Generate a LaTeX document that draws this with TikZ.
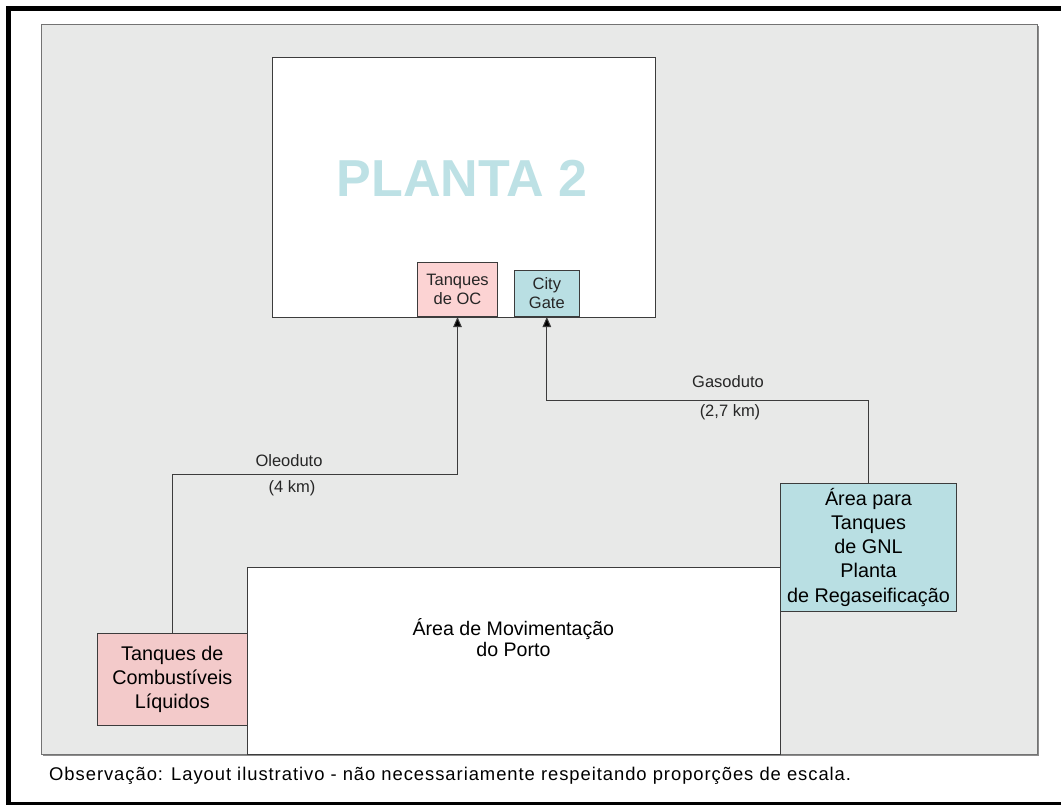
\documentclass[tikz,border=0pt]{standalone}
\usepackage{fontspec}
\setmainfont{Liberation Sans}
\usetikzlibrary{arrows.meta}
\definecolor{bgray}{HTML}{E8E9E8}
\definecolor{pinkA}{HTML}{F3CACA}
\definecolor{pinkB}{HTML}{FCD3D3}
\definecolor{tealA}{HTML}{B9DFE3}
\definecolor{tealT}{HTML}{BDE1E5}
\definecolor{lineC}{HTML}{3C3C3C}
\begin{document}
\begin{tikzpicture}[x=1pt,y=-1pt,
  box/.style={draw=lineC,line width=1pt,inner sep=0pt,align=center},
  bigtxt/.style={font=\fontsize{19.8}{24.2}\selectfont},
  smalltxt/.style={font=\fontsize{16.5}{19}\selectfont,text=black!85},
  pipe/.style={draw=lineC,line width=1pt},
  arr/.style={pipe,-{Triangle[width=8.5pt,length=10pt,fill=black]}},
  lbl/.style={font=\fontsize{16.5}{19}\selectfont,text=black!85,anchor=base,inner sep=0pt}]
\useasboundingbox (0,0) rectangle (1061,805);
% outer frame
\draw[line width=5pt,black] (8.5,8.5) rectangle (1066,804.5);
% gray field
\fill[black!45] (43,26) rectangle (1039,756);
\node[draw=black!55,line width=1pt,fill=bgray,minimum width=996pt,minimum height=730pt,anchor=north west,inner sep=0pt] (field) at (41,24) {};
% Planta 2
\node[box,fill=white,minimum width=383pt,minimum height=260pt,anchor=north west] (planta) at (272,57) {};
\node[font=\fontsize{52}{60}\selectfont\bfseries,text=tealT,anchor=base,inner sep=0pt] (ptitle) at (462,196.7) {PLANTA 2};
\node[box,smalltxt,fill=pinkB,minimum width=80.6pt,minimum height=54.3pt,anchor=south west] (oc) at (416.7,317) {Tanques\\de OC};
\node[box,smalltxt,fill=tealA,minimum width=65.3pt,minimum height=46pt,anchor=south west] (cg) at (513.7,317) {City\\Gate};
% Area de movimentacao
\node[box,fill=white,minimum width=533.3pt,minimum height=187pt,anchor=north west] (mov) at (246.7,566.7) {};
\node[align=center,anchor=base,inner sep=0pt,font=\fontsize{19.6}{20.7}\selectfont] (movt) at (513.4,656) {Área de Movimentação\\do Porto};
% Tanques de combustiveis
\node[box,bigtxt,fill=pinkA,minimum width=149.7pt,minimum height=92.3pt,anchor=north west] (tc) at (97,632.7) {Tanques de\\Combustíveis\\Líquidos};
% Area para tanques GNL
\node[box,bigtxt,fill=tealA,minimum width=176pt,minimum height=128pt,anchor=north west] (ag) at (780,482.7) {Área para\\Tanques\\de GNL\\Planta\\de Regaseificação};
% pipelines
\coordinate (obend) at (172,474.3);
\coordinate (gbend) at (868,400.3);
\draw[arr] (tc.north) -- (tc.north |- obend) -| (oc.south);
\draw[arr] (ag.north) -- (ag.north |- gbend) -| (cg.south);
\node[lbl] (ol) at (289,466.7) {Oleoduto};
\node[lbl] (olk) at (292,492.5) {(4 km)};
\node[lbl] (gl) at (728,387.3) {Gasoduto};
\node[lbl] (glk) at (730,416.5) {(2,7 km)};
% note
\node[anchor=base west,inner sep=0pt,font=\fontsize{18.4}{21}\selectfont\addfontfeature{LetterSpace=5.2}] (note) at (49,780.7) {Observação: Layout ilustrativo - não necessariamente respeitando proporções de escala.};
\end{tikzpicture}
\end{document}
